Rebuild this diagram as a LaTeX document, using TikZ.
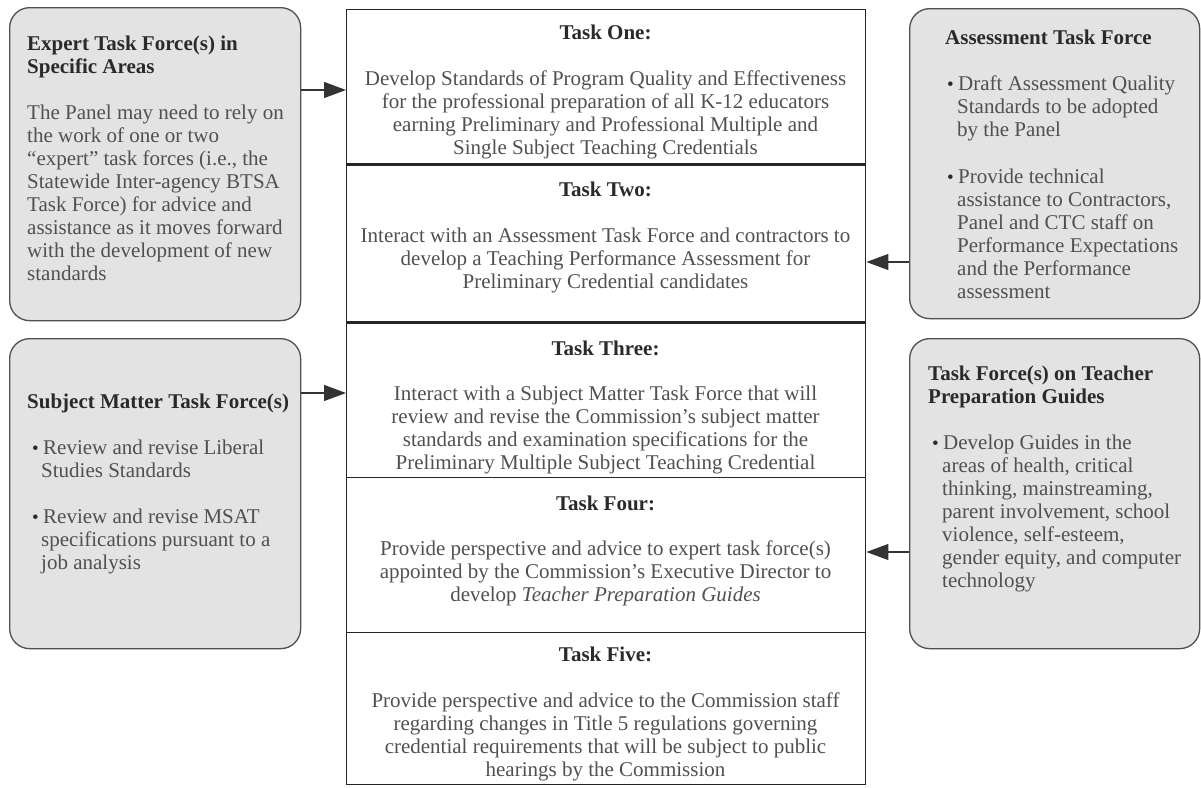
\documentclass[tikz,border=0pt]{standalone}
\usepackage{fontspec}
\setmainfont{Liberation Serif}
\usetikzlibrary{arrows.meta}
\definecolor{boxfill}{HTML}{E3E3E3}
\definecolor{boxline}{HTML}{505050}
\definecolor{bodytext}{HTML}{505050}
\definecolor{headtext}{HTML}{2A2A2A}
\newcommand{\bhead}[1]{{\bfseries\color{headtext}#1}}
\newcommand{\bul}[1]{\hspace*{#1}\makebox[11pt][l]{\raisebox{0.5pt}{\color{headtext}\fontsize{19}{19}\selectfont\textbullet}}}
\begin{document}
\begin{tikzpicture}[x=1pt,y=-1pt,
  sidebox/.style={draw=boxline, fill=boxfill, line width=1.3pt, rounded corners=20pt,
    anchor=north west, inner sep=0pt, minimum width=291pt},
  taskbox/.style={draw=black!85, line width=1.4pt, anchor=north west, inner sep=0pt,
    minimum width=519pt},
  txt/.style={inner sep=0pt, text=bodytext, font=\fontsize{21}{23}\selectfont},
  arr/.style={draw=black!80, line width=1.2pt, -{Triangle[length=22pt,width=16pt]}}
]
\useasboundingbox (0,0) rectangle (1201,787);

% side boxes
\node[sidebox, minimum height=313pt] (lb1) at (9,7) {};
\node[sidebox, minimum height=310pt] (lb2) at (9,338) {};
\node[sidebox, minimum height=310pt, minimum width=290pt] (rb1) at (909,8) {};
\node[sidebox, minimum height=310pt, minimum width=290pt] (rb2) at (909,338) {};

% task boxes
\node[taskbox, minimum height=155pt] (t1) at (346,9) {};
\node[taskbox, minimum height=158pt] (t2) at (346,164) {};
\node[taskbox, minimum height=155pt] (t3) at (346,322) {};
\node[taskbox, minimum height=155pt] (t4) at (346,477) {};
\node[taskbox, minimum height=152pt] (t5) at (346,632) {};
\draw[line width=3pt, black!85] (t2.north west) -- (t2.north east);
\draw[line width=3pt, black!85] (t3.north west) -- (t3.north east);

% task texts
\node[txt, align=center, anchor=north] (t1txt) at (605.5,25) {\bhead{Task One:}\\[23pt]
Develop Standards of Program Quality and Effectiveness\\
for the professional preparation of all K-12 educators\\
earning Preliminary and Professional Multiple and\\
Single Subject Teaching Credentials};
\node[txt, align=center, anchor=north] (t2txt) at (605.5,182) {\bhead{Task Two:}\\[23pt]
Interact with an Assessment Task Force and contractors to\\
develop a Teaching Performance Assessment for\\
Preliminary Credential candidates};
\node[txt, align=center, anchor=north] (t3txt) at (605.5,341) {\bhead{Task Three:}\\[22pt]
Interact with a Subject Matter Task Force that will\\
review and revise the Commission’s subject matter\\
standards and examination specifications for the\\
Preliminary Multiple Subject Teaching Credential};
\node[txt, align=center, anchor=north] (t4txt) at (605.5,496) {\bhead{Task Four:}\\[22pt]
Provide perspective and advice to expert task force(s)\\
appointed by the Commission’s Executive Director to\\
develop \textit{Teacher Preparation Guides}};
\node[txt, align=center, anchor=north] (t5txt) at (605.5,647) {\bhead{Task Five:}\\[23pt]
Provide perspective and advice to the Commission staff\\
regarding changes in Title 5 regulations governing\\
credential requirements that will be subject to public\\
hearings by the Commission};

% side texts
\node[txt, align=left, anchor=north west] (lb1txt) at (27,36) {\bhead{Expert Task Force(s) in}\\
\bhead{Specific Areas}\\[23pt]
The Panel may need to rely on\\
the work of one or two\\
“expert” task forces (i.e., the\\
Statewide Inter-agency BTSA\\
Task Force) for advice and\\
assistance as it moves forward\\
with the development of new\\
standards};
\node[txt, align=left, anchor=north west] (lb2txt) at (27,394) {\bhead{Subject Matter Task Force(s)}\\[23pt]
\bul{5pt}Review and revise Liberal\\
\hspace*{14pt}Studies Standards\\[23pt]
\bul{5pt}Review and revise MSAT\\
\hspace*{14pt}specifications pursuant to a\\
\hspace*{14pt}job analysis};
\node[txt, align=left, anchor=north west] (rb1txt) at (945,30) {\bhead{Assessment Task Force}\\[23pt]
\bul{2pt}Draft Assessment Quality\\
\hspace*{12pt}Standards to be adopted\\
\hspace*{12pt}by the Panel\\[24pt]
\bul{2pt}Provide technical\\
\hspace*{12pt}assistance to Contractors,\\
\hspace*{12pt}Panel and CTC staff on\\
\hspace*{12pt}Performance Expectations\\
\hspace*{12pt}and the Performance\\
\hspace*{12pt}assessment};
\node[txt, align=left, anchor=north west] (rb2txt) at (928,366) {\bhead{Task Force(s) on Teacher}\\
\bhead{Preparation Guides}\\[23pt]
\bul{4pt}Develop Guides in the\\
\hspace*{14pt}areas of health, critical\\
\hspace*{14pt}thinking, mainstreaming,\\
\hspace*{14pt}parent involvement, school\\
\hspace*{14pt}violence, self-esteem,\\
\hspace*{14pt}gender equity, and computer\\
\hspace*{14pt}technology};

% connectors
\coordinate (ya) at (0,90);
\coordinate (yb) at (0,262);
\coordinate (yc) at (0,393);
\coordinate (yd) at (0,552);
\draw[arr] (lb1.east |- ya) -- (t1.west |- ya);
\draw[arr] (rb1.west |- yb) -- (t2.east |- yb);
\draw[arr] (lb2.east |- yc) -- (t3.west |- yc);
\draw[arr] (rb2.west |- yd) -- (t4.east |- yd);
\end{tikzpicture}
\end{document}
